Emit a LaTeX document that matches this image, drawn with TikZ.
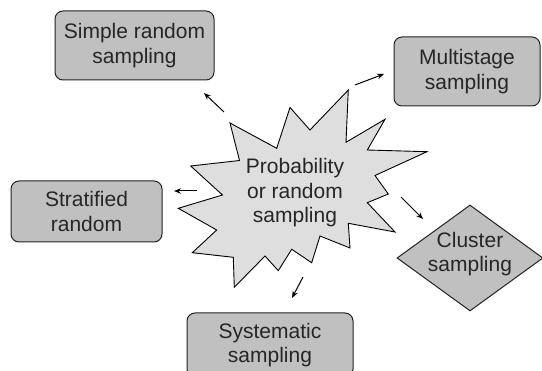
\documentclass[tikz,border=0pt]{standalone}
\usepackage{fontspec}
\setmainfont{Liberation Sans}
\usetikzlibrary{shapes.geometric,arrows.meta}
\definecolor{boxgray}{RGB}{192,192,192}
\definecolor{burstgray}{RGB}{222,222,222}
\definecolor{edgecol}{RGB}{35,35,35}
\tikzset{
  txt/.style={font=\fontsize{21}{24.5}\selectfont, align=center, text=black!85},
  boxnode/.style={txt, draw=edgecol, fill=boxgray, line width=1pt, rounded corners=8pt, inner sep=0pt},
  diamnode/.style={draw=edgecol, fill=boxgray, line width=1pt, diamond, inner sep=0pt, minimum width=146pt, minimum height=106pt},
  burst/.style={draw=black, fill=burstgray, line width=0.9pt, line join=miter},
  arr/.style={line width=1pt, -{Stealth[length=7pt,width=5.5pt]}}
}
\begin{document}
\begin{tikzpicture}[x=1pt,y=-1pt]
\clip (0,0) rectangle (542,371);
\fill[white] (0,0) rectangle (542,371);
% boxes
\node[boxnode, minimum width=159pt, minimum height=69pt] (simple) at (134.5,45.5) {Simple random\\sampling};
\node[boxnode, minimum width=146pt, minimum height=69pt] (multi) at (467,71.5) {Multistage\\sampling};
\node[boxnode, minimum width=151pt, minimum height=61pt] (strat) at (86.5,211.5) {Stratified\\random};
\node[boxnode, minimum width=166pt, minimum height=64pt] (syst) at (270,345) {Systematic\\sampling};
\node[diamnode] (cluster) at (470,258) {};
\node[txt] (clustertxt) at (470,254) {Cluster\\sampling};
% starburst
\draw[burst] (190.7,166) -- (239.5,160.5) -- (230,123) -- (276.7,148.3) -- (290,107.5)
  -- (310,130) -- (348.3,90) -- (346,142.3) -- (385,119.3) -- (367.3,150)
  -- (427,151.7) -- (375,175.5) -- (388.3,194) -- (367.3,202.7) -- (395,232)
  -- (348.3,223.3) -- (350,248) -- (320,236) -- (311.7,262.7) -- (291.7,249.3)
  -- (278.3,270.7) -- (265,256) -- (234.3,287.3) -- (233.3,257.3) -- (192.3,252.7)
  -- (216.7,230) -- (178.3,208.3) -- (222.5,195) -- cycle;
\node[txt] (prob) at (295,193) {Probability\\or random\\sampling};
% arrow ends
\coordinate (s1) at (224,112); \coordinate (s2) at (204,93);
\coordinate (m1) at (355,85);  \coordinate (m2) at (384,74);
\coordinate (t1) at (197,191); \coordinate (t2) at (174,191);
\coordinate (c1) at (401,197); \coordinate (c2) at (423,219);
\coordinate (y1) at (303,277); \coordinate (y2) at (292,298);
\draw[arr] (s1) -- (s2);
\draw[arr] (m1) -- (m2);
\draw[arr] (t1) -- (t2);
\draw[arr] (c1) -- (c2);
\draw[arr] (y1) -- (y2);
\end{tikzpicture}
\end{document}
